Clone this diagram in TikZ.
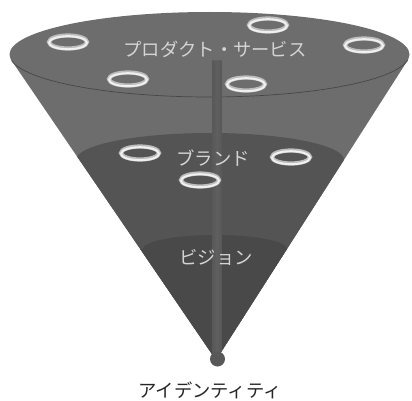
\documentclass[tikz,border=0pt]{standalone}
\usepackage{fontspec}
\newfontfamily\jp{Noto Sans CJK JP}
\definecolor{topc}{HTML}{6D6D6D}
\definecolor{brandc}{HTML}{545454}
\definecolor{visc}{HTML}{494949}
\definecolor{barc}{HTML}{585858}
\definecolor{barl}{HTML}{5F5F5F}
\definecolor{edgec}{HTML}{474747}
\definecolor{ringc}{HTML}{BDBDBD}
\definecolor{ringh}{HTML}{F0F0F0}
\definecolor{lblc}{HTML}{D4D4D4}
\begin{document}
\begin{tikzpicture}[x=1pt,y=-1pt,
  lbl/.style={text=lblc,font=\jp\fontsize{18.3}{21}\selectfont,inner sep=0pt},
  ringback/.style={draw=ringc,line width=4.2pt},
  ringfront/.style={draw=ringh,line width=2pt}]
\useasboundingbox (0,0) rectangle (412,401);
% cone body
\fill[topc] (209.5,54.5) ellipse [x radius=200, y radius=42.5];
\fill[topc] (11.6,60.6) -- (216,360) -- (407.7,60.2) -- cycle;
% front rim of top surface
\draw[edgec,line width=0.7pt] (11.6,60.6) arc[start angle=171.74,end angle=7.74,x radius=200,y radius=42.5];
\begin{scope}
  \clip (11.6,60.6) -- (216,360) -- (407.7,60.2) -- cycle;
  % brand layer
  \fill[brandc] (0,160) -- (76,160) arc[start angle=180,end angle=360,x radius=134,y radius=27] -- (412,160) -- (412,401) -- (0,401) -- cycle;
  % vision layer
  \fill[visc] (0,249) -- (143,249) arc[start angle=180,end angle=360,x radius=72,y radius=14] -- (412,249) -- (412,401) -- (0,401) -- cycle;
  % central bar
  \shade[left color=barc,right color=barc,middle color=barl] (212,48) rectangle (221.5,362);
\end{scope}
% ball at the tip
\fill[barc] (217.5,359) circle (7.5);
% rings
\foreach \x/\y in {68/42,268/25,364/45,128/79,246/84,140/153,291/157,200/180}{
  \draw[ringback] (\x,\y) ellipse [x radius=19, y radius=6.5];
  \draw[ringfront] (\x,\y+0.7) ellipse [x radius=19, y radius=6.5];
}
% labels
\node[lbl] (ps) at (215,49) {プロダクト・サービス};
\node[lbl] (br) at (213,158) {ブランド};
\node[lbl] (vi) at (216,257) {ビジョン};
\node[lbl,text=black!85] (id) at (210,390) {アイデンティティ};
\end{tikzpicture}
\end{document}
